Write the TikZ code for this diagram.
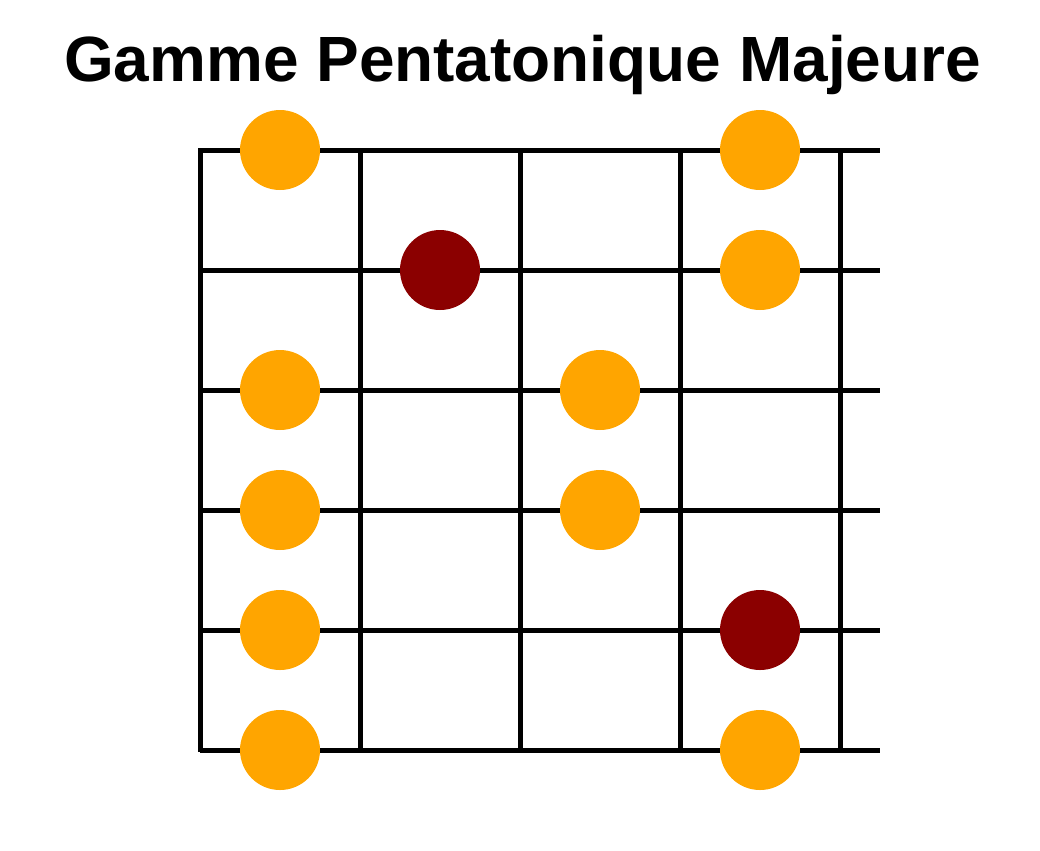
\documentclass[tikz,border=0pt]{standalone}
\usepackage{fontspec}
\setmainfont{Liberation Sans}
\usepackage{tikz}
\usetikzlibrary{positioning}
\definecolor{dotorange}{HTML}{FFA500}
\definecolor{dotred}{HTML}{8B0000}

\begin{document}
\begin{tikzpicture}[x=0.02cm,y=-0.02cm,
  fret/.style={line width=0.1cm,black},
  note/.style={circle,minimum size=1.6cm,inner sep=0pt,fill=dotorange},
  root/.style={circle,minimum size=1.6cm,inner sep=0pt,fill=dotred}]
\useasboundingbox (0,0) rectangle (1040,850);
\node at (522.5,81)[anchor=base,font=\fontsize{36.4}{44}\selectfont\bfseries](title){Gamme Pentatonique Majeure};
% strings
\draw[fret] (200,150) -- (880,150);
\draw[fret] (200,270) -- (880,270);
\draw[fret] (200,390) -- (880,390);
\draw[fret] (200,510) -- (880,510);
\draw[fret] (200,630) -- (880,630);
\draw[fret] (200,750) -- (880,750);
% frets
\draw[fret] (200,148) -- (200,752);
\draw[fret] (360,150) -- (360,750);
\draw[fret] (520,150) -- (520,750);
\draw[fret] (680,150) -- (680,750);
\draw[fret] (840,150) -- (840,750);
% notes
\node at (280,150)[note](n10){};
\node at (760,150)[note](n14){};
\node at (440,270)[root](n21){};
\node at (760,270)[note](n24){};
\node at (280,390)[note](n30){};
\node at (600,390)[note](n32){};
\node at (280,510)[note](n40){};
\node at (600,510)[note](n42){};
\node at (280,630)[note](n50){};
\node at (760,630)[root](n54){};
\node at (280,750)[note](n60){};
\node at (760,750)[note](n64){};
\end{tikzpicture}
\end{document}
